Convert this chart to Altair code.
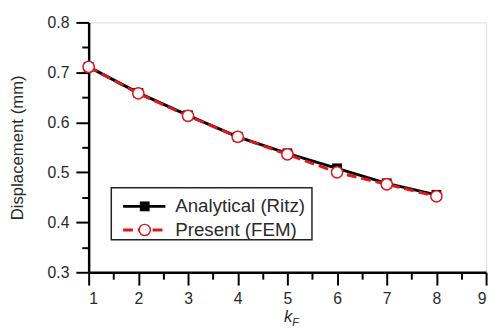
import altair as alt
import pandas as pd

k_values = [1, 2, 3, 4, 5, 6, 7, 8]
ritz = [0.711, 0.659, 0.614, 0.571, 0.538, 0.508, 0.478, 0.455]
fem = [0.711, 0.658, 0.613, 0.571, 0.536, 0.500, 0.476, 0.452]

x_major = [1, 2, 3, 4, 5, 6, 7, 8, 9]
x_minor = [1.5, 2.5, 3.5, 4.5, 5.5, 6.5, 7.5, 8.5]
y_major = [0.3, 0.4, 0.5, 0.6, 0.7, 0.8]
y_minor = [0.35, 0.45, 0.55, 0.65, 0.75]

legend_labels = ["Analytical (Ritz)", "Present (FEM)"]
y_title = "Displacement (mm)"

RED = "#e3161c"
FONT = "Liberation Sans"
TXT = "#2a2a2a"

df = pd.DataFrame({"k": k_values, "ritz": ritz, "fem": fem})
one = pd.DataFrame({"a": [0]})

xs = alt.Scale(domain=[1, 9], nice=False, zero=False)
ys = alt.Scale(domain=[0.3, 0.8], nice=False, zero=False)

major_x_axis = alt.Axis(values=x_major, orient="bottom", tickSize=13, tickWidth=2,
                        domainWidth=2.5, domainColor="black", tickColor="black",
                        labelFontSize=16, labelFont=FONT, labelColor=TXT,
                        labelPadding=6, grid=False, title=None, format="d")
major_y_axis = alt.Axis(values=y_major, orient="left", tickSize=13, tickWidth=2,
                        domainWidth=2.5, domainColor="black", tickColor="black",
                        labelFontSize=16, labelFont=FONT, labelColor=TXT,
                        labelPadding=7, grid=False, format=".1f",
                        title=y_title, titleFont=FONT, titleFontSize=17,
                        titleFontWeight="normal", titleColor=TXT,
                        titleX=-63, titleY=127, titleAnchor="middle")
minor_x_axis = alt.Axis(values=x_minor, orient="bottom", tickSize=7, tickWidth=2,
                        tickColor="black", domain=False, labels=False, grid=False, title=None)
minor_y_axis = alt.Axis(values=y_minor, orient="left", tickSize=7, tickWidth=2,
                        tickColor="black", domain=False, labels=False, grid=False, title=None)

base = alt.Chart(df)

minor = base.mark_point(opacity=0).encode(
    x=alt.X("k:Q", scale=xs, axis=minor_x_axis),
    y=alt.Y("ritz:Q", scale=ys, axis=minor_y_axis),
)

ritz_line = base.mark_line(color="black", strokeWidth=3).encode(
    x=alt.X("k:Q", scale=xs, axis=major_x_axis),
    y=alt.Y("ritz:Q", scale=ys, axis=major_y_axis),
)
ritz_pts = base.mark_point(shape="square", filled=True, color="black", size=100, opacity=1).encode(
    x=alt.X("k:Q", scale=xs, axis=None),
    y=alt.Y("ritz:Q", scale=ys, axis=None),
)
fem_line = base.mark_line(color=RED, strokeWidth=3, strokeDash=[10, 5]).encode(
    x=alt.X("k:Q", scale=xs, axis=None),
    y=alt.Y("fem:Q", scale=ys, axis=None),
)
fem_pts = base.mark_point(shape="circle", filled=True, fill="white", stroke=RED,
                          strokeWidth=1.5, size=130, opacity=1).encode(
    x=alt.X("k:Q", scale=xs, axis=None),
    y=alt.Y("fem:Q", scale=ys, axis=None),
)

leg = alt.Chart(one)
leg_box = leg.mark_rect(fill="white", stroke="#222", strokeWidth=1.5).encode(
    x=alt.value(23), x2=alt.value(227), y=alt.value(168), y2=alt.value(221))
leg_l1 = leg.mark_rule(color="black", strokeWidth=3).encode(
    x=alt.value(35), x2=alt.value(78), y=alt.value(187))
leg_p1 = leg.mark_point(shape="square", filled=True, color="black", size=100, opacity=1).encode(
    x=alt.value(57), y=alt.value(187))
leg_l2 = leg.mark_rule(color=RED, strokeWidth=3, strokeDash=[10, 5]).encode(
    x=alt.value(35), x2=alt.value(78), y=alt.value(211))
leg_p2 = leg.mark_point(shape="circle", filled=True, fill="white", stroke=RED,
                        strokeWidth=1.5, size=130, opacity=1).encode(
    x=alt.value(57), y=alt.value(211))
leg_t1 = leg.mark_text(align="left", baseline="middle", font=FONT, fontSize=19, color=TXT).encode(
    x=alt.value(88), y=alt.value(187), text=alt.value(legend_labels[0]))
leg_t2 = leg.mark_text(align="left", baseline="middle", font=FONT, fontSize=19, color=TXT).encode(
    x=alt.value(88), y=alt.value(211), text=alt.value(legend_labels[1]))

xt_k = leg.mark_text(align="right", baseline="alphabetic", font=FONT, fontSize=17,
                     fontStyle="italic", color=TXT).encode(
    x=alt.value(207), y=alt.value(305), text=alt.value("k"))
xt_f = leg.mark_text(align="left", baseline="alphabetic", font=FONT, fontSize=11,
                     fontStyle="italic", color=TXT).encode(
    x=alt.value(207), y=alt.value(309), text=alt.value("F"))

chart = alt.layer(
    minor, ritz_line, ritz_pts, fem_line, fem_pts,
    leg_box, leg_l1, leg_p1, leg_l2, leg_p2, leg_t1, leg_t2, xt_k, xt_f,
).resolve_axis(x="independent", y="independent").resolve_scale(x="shared", y="shared").properties(
    width=404, height=254,
    autosize=alt.AutoSizeParams(type="none"),
    padding={"left": 82, "top": 12, "right": 5, "bottom": 55},
).configure_view(stroke=None).configure(background="white")

chart.save("out.html", embed_options={"renderer": "svg", "actions": False})
